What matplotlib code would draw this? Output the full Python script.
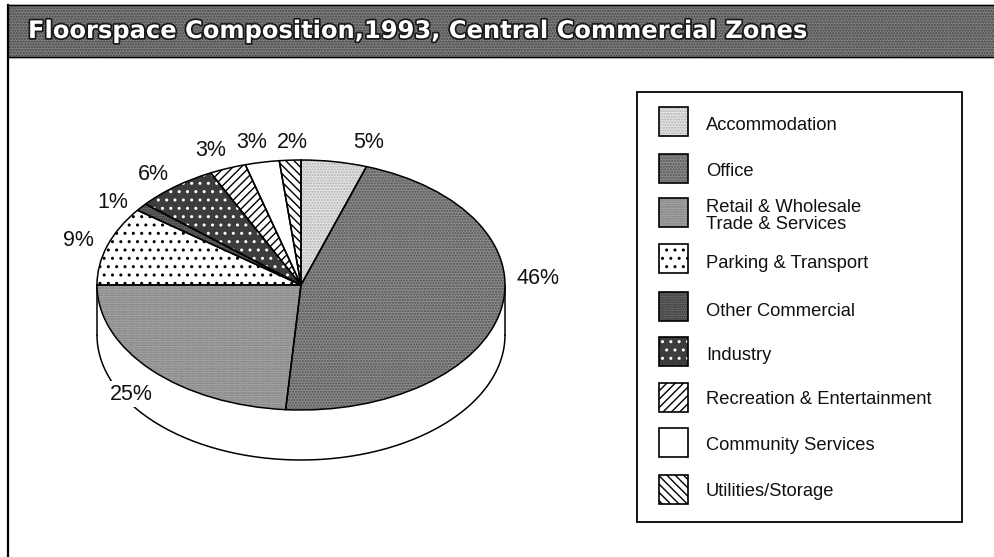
import matplotlib
matplotlib.use("Agg")
import matplotlib.pyplot as plt
import matplotlib.patheffects as pe
from matplotlib.patches import Rectangle
import numpy as np

W, H = 995, 557

categories = ["Accommodation", "Office", "Retail & Wholesale\nTrade & Services",
              "Parking & Transport", "Other Commercial", "Industry",
              "Recreation & Entertainment", "Community Services", "Utilities/Storage"]
# printed labels, and the slice sizes as actually drawn in the picture
printed = [5, 46, 25, 9, 1, 6, 3, 3, 2]
shares = [5.2, 46, 23.8, 10.2, 1, 6.5, 2.9, 2.7, 1.7]
title = "Floorspace Composition,1993, Central Commercial Zones"

fills = ["#e4e4e4", "#8c8c8c", "#ababab", "white", "#6a6a6a", "#3c3c3c", "white", "white", "white"]
hatches = ["......", "......", ".......", "..", ".......", "..", "////", None, "\\\\\\\\"]
hatch_cols = ["#b0b0b0", "#505050", "#777777", "black", "#333333", "white", "black", "black", "black"]

# pixel positions
legend_y = [107, 154, 198, 244, 292, 337, 383, 428, 475]
legend_text_y = [126, 171, 216, 264, 311, 355, 400, 446, 492]
label_xy = [(369, 143), (538, 278), (131, 394), (78, 240), (113, 202),
            (153, 174), (211, 151), (252, 143), (292, 142)]
cx, cy, rx, ry, depth = 301, 285, 204, 125, 50

plt.rcParams["font.family"] = ["Liberation Sans", "DejaVu Sans"]
plt.rcParams["hatch.linewidth"] = 1.0

fig = plt.figure(figsize=(W / 100, H / 100), dpi=100)
bg = fig.add_axes([0, 0, 1, 1])
bg.set_xlim(0, W)
bg.set_ylim(H, 0)
bg.axis("off")

# title band and frame
bg.add_patch(Rectangle((8, 5), W, 52, fc="#7e7e7e", ec="#454545", lw=1, hatch="......", zorder=1))
bg.plot([8, W], [5, 5], color="black", lw=1)
bg.plot([8, W], [57, 57], color="black", lw=1)
bg.plot([8, 8], [5, H], color="black", lw=1.6)
bg.text(28, 31, title, color="white", fontsize=17.4, fontweight="bold", family="DejaVu Sans",
        va="center", path_effects=[pe.withStroke(linewidth=2.5, foreground="#1a1a1a")])

# side of the disc
t = np.linspace(np.pi, 2 * np.pi, 200)
xs = cx + rx * np.cos(t)
ys = cy - ry * np.sin(t)
bg.fill_between(xs, ys, ys + depth, color="white", zorder=1)
bg.plot(xs, ys + depth, color="black", lw=1.1, zorder=1)
bg.plot([cx - rx, cx - rx], [cy, cy + depth], color="black", lw=1.1, zorder=1)
bg.plot([cx + rx, cx + rx], [cy, cy + depth], color="black", lw=1.1, zorder=1)

# pie top squashed into an ellipse
ax = fig.add_axes([(cx - rx) / W, 1 - (cy + ry) / H, 2 * rx / W, 2 * ry / H])
ax.patch.set_alpha(0)
wedges, _ = ax.pie(shares, startangle=90, counterclock=False, radius=1,
                   colors=fills, wedgeprops={"lw": 0})
for w, h, c in zip(wedges, hatches, hatch_cols):
    w.set_hatch(h)
    w.set_edgecolor(c)
ax.pie(shares, startangle=90, counterclock=False, radius=1,
       wedgeprops={"fill": False, "edgecolor": "black", "lw": 1.1})
ax.set_aspect("auto")
ax.set_xlim(-1, 1)
ax.set_ylim(-1, 1)

for (x, y), v in zip(label_xy, printed):
    bg.text(x, y, f"{v}%", fontsize=15.5, ha="center", va="center", color="#111111",
            bbox={"fc": "white", "ec": "none", "pad": 1.5} if v == 25 else None)

# legend
bg.add_patch(Rectangle((637, 92), 325, 430, fc="white", ec="black", lw=1.3))
for y, ty, name, f, h, c in zip(legend_y, legend_text_y, categories, fills, hatches, hatch_cols):
    bg.add_patch(Rectangle((659, y), 29, 29, fc=f, ec=c, hatch=h, lw=0))
    bg.add_patch(Rectangle((659, y), 29, 29, fill=False, ec="black", lw=1.2))
    bg.text(706, ty, name, fontsize=13.2, va="center", linespacing=0.98, color="#111111")

fig.savefig("out.png", dpi=100)
